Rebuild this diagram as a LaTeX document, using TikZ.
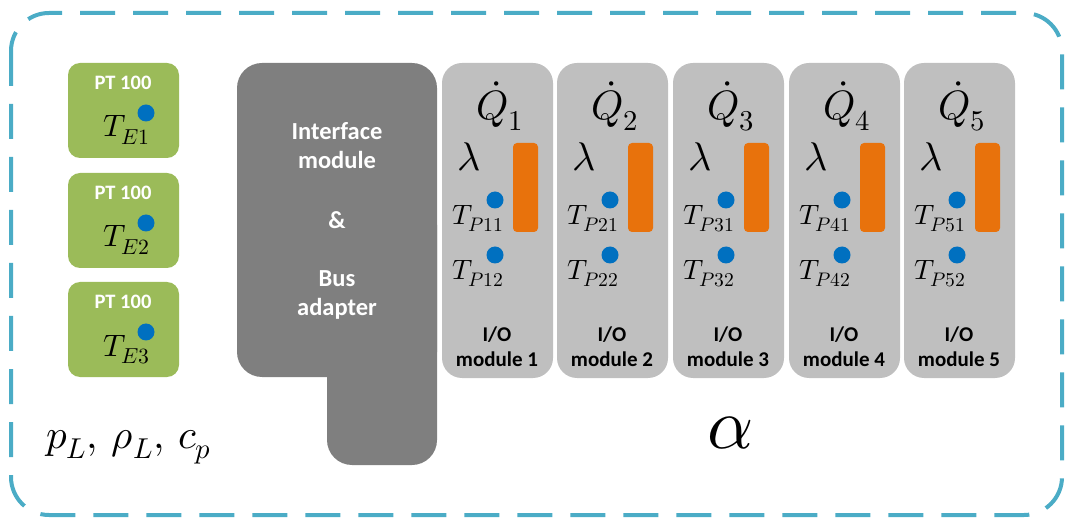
\documentclass[tikz,border=0pt]{standalone}
\usepackage{fontspec}
\usepackage{unicode-math}
\setmathfont{Latin Modern Math}
\newfontfamily\carl{Carlito}
\definecolor{frameblue}{HTML}{4BACC6}
\definecolor{ptgreen}{HTML}{9BBB59}
\definecolor{ifgray}{HTML}{7F7F7F}
\definecolor{modgray}{HTML}{BFBFBF}
\definecolor{barorange}{HTML}{E8720C}
\definecolor{dotblue}{HTML}{0070C0}
\tikzset{
  frame/.style={draw=frameblue, line width=4pt, dash pattern=on 35pt off 18pt, rounded corners=38pt},
  ptbox/.style={fill=ptgreen, rounded corners=12pt},
  modbox/.style={fill=modgray, rounded corners=20pt},
  bar/.style={fill=barorange, rounded corners=4pt},
  sdot/.style={circle, fill=dotblue, inner sep=0pt, minimum size=17pt},
  wlbl/.style={font=\carl\bfseries\fontsize{24.5}{29}\selectfont, text=white, align=center, inner sep=0pt},
  ptlbl/.style={font=\carl\bfseries\fontsize{20.5}{24}\selectfont, text=white, inner sep=0pt},
  modlbl/.style={font=\carl\bfseries\fontsize{21}{25}\selectfont, align=center, inner sep=0pt},
  bigmath/.style={font=\fontsize{41}{44}\selectfont, inner sep=0pt},
  lammath/.style={font=\fontsize{40}{44}\selectfont, inner sep=0pt},
  tmath/.style={font=\fontsize{28}{31}\selectfont, inner sep=0pt},
  temath/.style={font=\fontsize{31}{34}\selectfont, inner sep=0pt}
}
\begin{document}
\begin{tikzpicture}[x=1pt,y=-1pt]
\useasboundingbox (0,0) rectangle (1065,518);
% outer dashed frame
\draw[frame] (11,13) rectangle (1062,515);
% PT100 sensors
\foreach \i/\y in {1/63,2/173,3/282}{
  \fill[ptbox] (68,\y) rectangle (179,\y+95);
  \node[ptlbl] (pt\i) at (123,\y+20) {PT 100};
  \node[sdot] (ed\i) at (146,\y+50) {};
  \node[temath, anchor=base west] (te\i) at (103,\y+74) {$T_{E\i}$};
}
% interface module
\fill[ifgray, rounded corners=25pt] (237,63) rectangle (437,377);
\fill[ifgray, rounded corners=25pt] (327,200) rectangle (437,465);
\node[wlbl] (iface) at (337,146) {Interface\\module};
\node[wlbl] (amp) at (337,220) {\&};
\node[wlbl] (bus) at (337,295) {Bus\\adapter};
% I/O modules
\foreach \i/\x in {1/442,2/557,3/673,4/789,5/904}{
  \fill[modbox] (\x,63) rectangle (\x+111,378);
  \node[bigmath, anchor=base] (q\i) at (\x+58,120) {$\dot{Q}_{\i}$};
  \node[lammath] (lam\i) at (\x+27,157) {$\lambda$};
  \fill[bar] (\x+71,143) rectangle (\x+96,232);
  \node[sdot] (da\i) at (\x+53,200) {};
  \node[sdot] (db\i) at (\x+53,255) {};
  \node[tmath, anchor=base west] (tpa\i) at (\x+10,225) {$T_{P\i1}$};
  \node[tmath, anchor=base west] (tpb\i) at (\x+10,280) {$T_{P\i2}$};
  \node[modlbl] (io\i) at (\x+55,347) {I/O\\module \i};
}
% parameters
\node[font=\fontsize{41}{44}\selectfont, inner sep=0pt, anchor=base west] (params) at (46,448) {$p_L,\, \rho_L,\, c_p$};
\node[font=\fontsize{72}{78}\selectfont, inner sep=0pt] (alpha) at (731,433) {$\alpha$};
\end{tikzpicture}
\end{document}
